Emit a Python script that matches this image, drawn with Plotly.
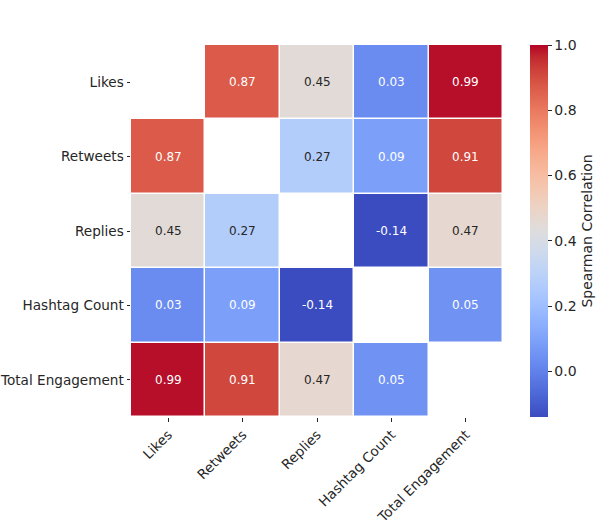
import plotly.graph_objects as go

labels = ["Likes", "Retweets", "Replies", "Hashtag Count", "Total Engagement"]
corr = [
    [None, 0.87, 0.45, 0.03, 0.99],
    [0.87, None, 0.27, 0.09, 0.91],
    [0.45, 0.27, None, -0.14, 0.47],
    [0.03, 0.09, -0.14, None, 0.05],
    [0.99, 0.91, 0.47, 0.05, None],
]
zmin, zmax = -0.14, 1.0
cbar_ticks = [0.0, 0.2, 0.4, 0.6, 0.8, 1.0]

cw = [
    (59, 76, 192), (68, 90, 204), (77, 104, 215), (87, 117, 225), (98, 130, 234),
    (108, 142, 241), (119, 154, 247), (130, 165, 251), (141, 176, 254), (152, 185, 255),
    (163, 194, 255), (174, 201, 253), (184, 208, 249), (194, 213, 244), (204, 217, 238),
    (213, 219, 230), (221, 221, 221), (229, 216, 209), (236, 211, 197), (241, 204, 184),
    (245, 196, 172), (247, 187, 160), (247, 177, 148), (247, 166, 135), (244, 154, 123),
    (241, 141, 111), (236, 127, 99), (229, 112, 88), (222, 96, 77), (213, 80, 66),
    (203, 62, 56), (192, 40, 47), (180, 4, 38),
]
colorscale = [[i / (len(cw) - 1), "rgb(%d,%d,%d)" % c] for i, c in enumerate(cw)]

font = "DejaVu Sans"
fig = go.Figure()
fig.add_trace(go.Heatmap(
    z=corr, x=labels, y=labels, zmin=zmin, zmax=zmax,
    colorscale=colorscale, xgap=1.5, ygap=1.5, hoverongaps=False,
    colorbar=dict(
        thickness=18, len=1, lenmode="fraction", y=0.5, yanchor="middle",
        x=1.0726, xanchor="left", xpad=0, ypad=0, outlinewidth=0,
        tickvals=cbar_ticks, ticktext=["%.1f" % t for t in cbar_ticks],
        ticks="outside", ticklen=4, tickcolor="#262626",
        tickfont=dict(family=font, size=14, color="#262626"),
        title=dict(text="Spearman Correlation", side="right",
                   font=dict(family=font, size=14, color="#262626")),
    ),
))

annotations = []
for i, row in enumerate(corr):
    for j, v in enumerate(row):
        if v is None:
            continue
        t = (v - zmin) / (zmax - zmin)
        col = "#262626" if 0.3 < t < 0.62 else "white"
        annotations.append(dict(
            x=labels[j], y=labels[i], text="%.2f" % v, showarrow=False,
            font=dict(family=font, size=12, color=col),
        ))

fig.update_layout(
    width=609, height=525,
    margin=dict(l=131, r=106, t=45, b=108, autoexpand=False),
    plot_bgcolor="white", paper_bgcolor="white",
    annotations=annotations,
    font=dict(family=font, color="#262626"),
    xaxis=dict(tickangle=-45, ticks="outside", ticklen=3.5, tickcolor="#262626",
               tickfont=dict(family=font, size=13.6, color="#262626"),
               showgrid=False, zeroline=False, showline=False, automargin=False),
    yaxis=dict(autorange="reversed", ticks="outside", ticklen=3.5, tickcolor="#262626",
               tickfont=dict(family=font, size=13.6, color="#262626"),
               showgrid=False, zeroline=False, showline=False, automargin=False),
)

fig.write_html("out.html")
